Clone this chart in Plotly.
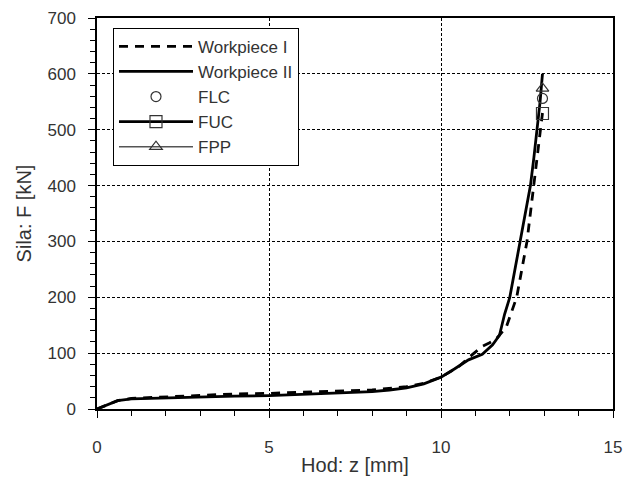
import plotly.graph_objects as go

# Workpiece II (solid)
x_wp2 = [0, 0.3, 0.6, 1.0, 1.5, 2, 3, 4, 5, 6, 7, 8, 8.5, 9, 9.5, 10, 10.4, 10.8, 11.2,
         11.5, 11.7, 11.85, 12.0, 12.15, 12.3, 12.45, 12.6, 12.7, 12.8, 12.88, 12.95]
f_wp2 = [0, 8, 15, 18, 19, 20, 21.5, 23, 24, 26, 28, 31, 34, 38, 45, 57, 72, 88, 98,
         115, 132, 170, 200, 250, 300, 350, 400, 450, 500, 550, 600]

# Workpiece I (dashed)
x_wp1 = [0, 0.6, 1.0, 2, 3, 4, 5, 6, 7, 8, 9, 9.5, 10, 10.5, 10.9, 11.2, 11.4, 11.6,
         11.9, 12.2, 12.5, 12.7, 12.9, 12.95]
f_wp1 = [0, 15, 19, 22, 25, 27, 28, 30, 32, 34, 40, 46, 57, 75, 97, 112, 118, 125,
         147, 200, 300, 400, 500, 530]

# Limit points
x_flc, f_flc = [12.95], [556]
x_fuc, f_fuc = [12.95], [529]
x_fpp, f_fpp = [12.95], [574]

x_ticks = [0, 5, 10, 15]
y_ticks = [0, 100, 200, 300, 400, 500, 600, 700]

fig = go.Figure()
fig.add_trace(go.Scatter(x=x_wp1, y=f_wp1, mode="lines", name="Workpiece I",
                         line=dict(color="black", width=2.8, dash="9px,7px")))
fig.add_trace(go.Scatter(x=x_wp2, y=f_wp2, mode="lines", name="Workpiece II",
                         line=dict(color="black", width=2.8)))
fig.add_trace(go.Scatter(x=x_flc, y=f_flc, mode="markers", name="FLC",
                         marker=dict(symbol="circle-open", size=10, color="#333",
                                     line=dict(width=1.2, color="#333"))))
fig.add_trace(go.Scatter(x=x_fuc, y=f_fuc, mode="lines+markers", name="FUC",
                         line=dict(color="black", width=2.8),
                         marker=dict(symbol="square-open", size=12, color="#333",
                                     line=dict(width=1.2, color="#333"))))
fig.add_trace(go.Scatter(x=x_fpp, y=f_fpp, mode="lines+markers", name="FPP",
                         line=dict(color="#555", width=1.5),
                         marker=dict(symbol="triangle-up-open", size=11, color="#333",
                                     line=dict(width=1.2, color="#333"))))

fam = "Liberation Sans, Arial, sans-serif"
font = dict(family=fam, size=17, color="#333")

fig.update_layout(
    width=625, height=484,
    margin=dict(l=97, r=12, t=18, b=75),
    paper_bgcolor="white", plot_bgcolor="white",
    font=font,
    showlegend=True,
    legend=dict(x=0.031, y=0.975, xanchor="left", yanchor="top",
                bgcolor="white", bordercolor="black", borderwidth=1,
                font=dict(family=fam, size=17, color="#333"),
                tracegroupgap=0, itemwidth=74),
    xaxis=dict(range=[0, 15], tickvals=x_ticks, showline=True, linecolor="black",
               linewidth=1.5, mirror=True, ticks="outside", ticklen=7, tickcolor="black",
               showgrid=True, gridcolor="black", griddash="3px,2px", gridwidth=1,
               zeroline=False, automargin=False,
               minor=dict(dtick=1, ticks="outside", ticklen=5, tickcolor="black", showgrid=False),
               title=dict(text="Hod: z [mm]", standoff=2), ticklabelstandoff=15),
    yaxis=dict(range=[0, 700], tickvals=y_ticks, showline=True, linecolor="black",
               linewidth=1.5, mirror=True, ticks="outside", ticklen=7, tickcolor="black",
               showgrid=True, gridcolor="black", griddash="3px,2px", gridwidth=1,
               zeroline=False, automargin=False,
               minor=dict(dtick=20, ticks="outside", ticklen=5, tickcolor="black", showgrid=False),
               title=dict(text="Sila: F [kN]", standoff=10), ticklabelstandoff=9),
)

fig.write_html("out.html")
